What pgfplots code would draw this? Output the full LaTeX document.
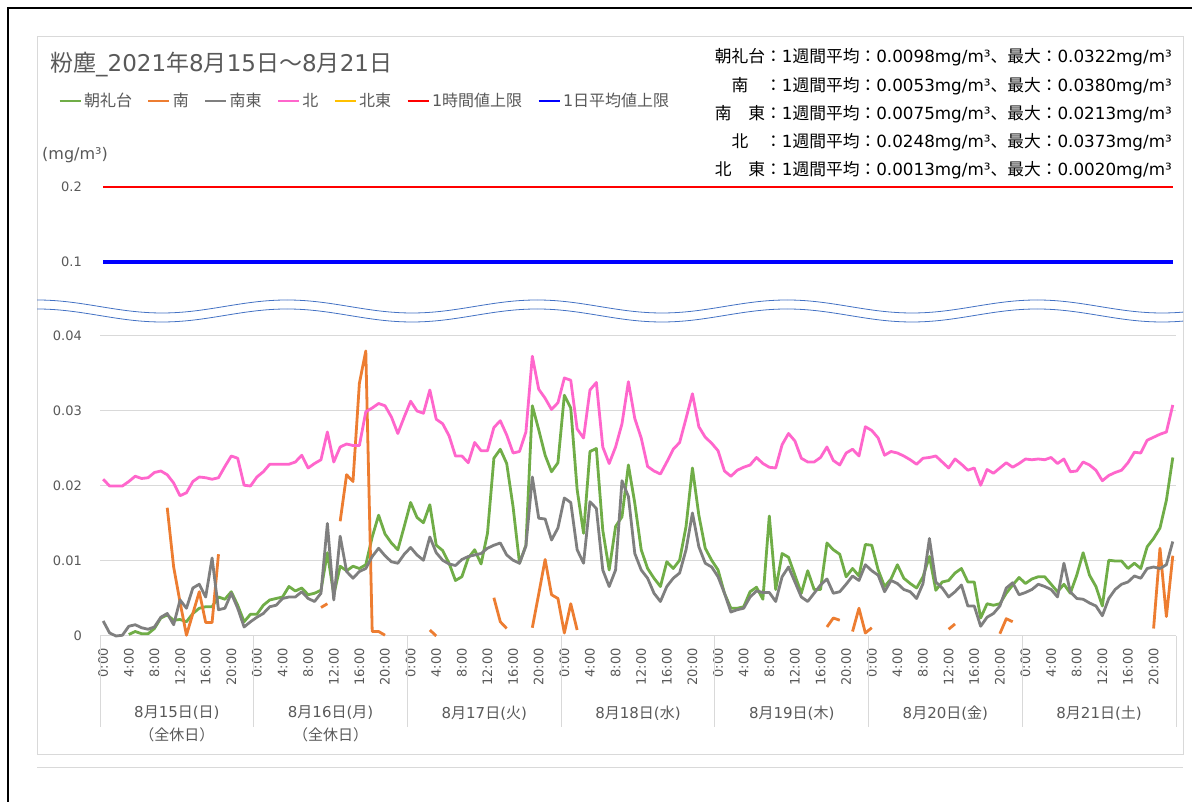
\documentclass[border=0pt]{standalone}
\usepackage{fontspec}
\setmainfont{DejaVu Sans}
\newfontfamily\jpfont{Noto Sans CJK JP}
\newfontfamily\latfont{DejaVu Sans}
\usepackage{pgfplots}
\pgfplotsset{compat=1.18}
\usepackage{pgfplotstable}
\newXeTeXintercharclass\cjkcls
\makeatletter
\def\setcjkrange#1#2{\count@=#1\relax\loop\XeTeXcharclass\count@=\cjkcls\ifnum\count@<#2\advance\count@\@ne\repeat}
\setcjkrange{"3000}{"30FF}
\setcjkrange{"4E00}{"9FFF}
\setcjkrange{"FF00}{"FFEF}
\makeatother
\XeTeXinterchartoks 0 \cjkcls = {\jpfont}
\XeTeXinterchartoks 4095 \cjkcls = {\jpfont}
\XeTeXinterchartoks \cjkcls 0 = {\latfont}
\XeTeXinterchartoks \cjkcls 4095 = {\latfont}
\definecolor{cgreen}{HTML}{70AD47}
\definecolor{corange}{HTML}{ED7D31}
\definecolor{cgray}{HTML}{7F7F7F}
\definecolor{cpink}{HTML}{FF66CC}
\definecolor{cyellow}{HTML}{FFC000}
\definecolor{txt}{HTML}{595959}
\definecolor{gridc}{HTML}{D9D9D9}
\definecolor{wave}{HTML}{4472C4}
\pgfplotstableread{
h G O S P
0 nan nan 0.0020 0.0209
1 nan nan 0.0004 0.0200
2 nan nan 0.0000 0.0200
3 nan nan 0.0001 0.0200
4 0.0002 nan 0.0013 0.0206
5 0.0006 nan 0.0015 0.0213
6 0.0003 nan 0.0011 0.0210
7 0.0003 nan 0.0009 0.0211
8 0.0010 nan 0.0012 0.0218
9 0.0024 nan 0.0025 0.0220
10 0.0028 0.0171 0.0030 0.0215
11 0.0021 0.0092 0.0015 0.0204
12 0.0022 0.0045 0.0048 0.0187
13 0.0019 0.0001 0.0037 0.0191
14 0.0030 0.0030 0.0064 0.0206
15 0.0037 0.0059 0.0069 0.0212
16 0.0039 0.0018 0.0052 0.0211
17 0.0039 0.0018 0.0104 0.0209
18 0.0052 0.0109 0.0035 0.0211
19 0.0049 nan 0.0037 0.0226
20 0.0059 nan 0.0057 0.0240
21 0.0041 nan 0.0037 0.0237
22 0.0019 nan 0.0012 0.0201
23 0.0029 nan 0.0019 0.0200
24 0.0029 nan 0.0025 0.0212
25 0.0041 nan 0.0030 0.0219
26 0.0048 nan 0.0039 0.0229
27 0.0050 nan 0.0041 0.0229
28 0.0052 nan 0.0050 0.0229
29 0.0066 nan 0.0052 0.0229
30 0.0060 nan 0.0052 0.0232
31 0.0064 nan 0.0059 0.0241
32 0.0055 nan 0.0050 0.0224
33 0.0057 nan 0.0046 0.0230
34 0.0061 0.0038 0.0057 0.0235
35 0.0111 0.0043 0.0150 0.0272
36 0.0055 nan 0.0048 0.0232
37 0.0093 0.0153 0.0133 0.0252
38 0.0087 0.0215 0.0086 0.0256
39 0.0093 0.0206 0.0077 0.0254
40 0.0090 0.0337 0.0086 0.0254
41 0.0095 0.0380 0.0090 0.0299
42 0.0132 0.0006 0.0106 0.0304
43 0.0161 0.0006 0.0117 0.0310
44 0.0136 0.0001 0.0107 0.0307
45 0.0124 nan 0.0099 0.0292
46 0.0115 nan 0.0097 0.0270
47 0.0146 nan 0.0109 0.0292
48 0.0178 nan 0.0118 0.0313
49 0.0158 nan 0.0108 0.0300
50 0.0151 nan 0.0101 0.0297
51 0.0175 0.0008 0.0132 0.0328
52 0.0121 0.0000 0.0111 0.0289
53 0.0114 nan 0.0101 0.0283
54 0.0097 nan 0.0096 0.0267
55 0.0074 nan 0.0094 0.0240
56 0.0079 nan 0.0102 0.0240
57 0.0104 nan 0.0106 0.0231
58 0.0115 nan 0.0108 0.0258
59 0.0096 nan 0.0110 0.0247
60 0.0137 nan 0.0117 0.0247
61 0.0237 0.0051 0.0121 0.0278
62 0.0249 0.0019 0.0124 0.0287
63 0.0230 0.0010 0.0108 0.0268
64 0.0172 nan 0.0101 0.0244
65 0.0097 nan 0.0097 0.0246
66 0.0121 nan 0.0120 0.0272
67 0.0307 0.0011 0.0212 0.0373
68 0.0275 0.0056 0.0157 0.0329
69 0.0241 0.0102 0.0156 0.0317
70 0.0219 0.0055 0.0128 0.0302
71 0.0231 0.0050 0.0144 0.0311
72 0.0321 0.0004 0.0184 0.0344
73 0.0304 0.0043 0.0178 0.0341
74 0.0195 0.0008 0.0115 0.0276
75 0.0137 nan 0.0097 0.0264
76 0.0246 nan 0.0179 0.0328
77 0.0250 nan 0.0170 0.0338
78 0.0141 nan 0.0088 0.0252
79 0.0088 nan 0.0066 0.0230
80 0.0146 nan 0.0088 0.0252
81 0.0159 nan 0.0207 0.0283
82 0.0228 nan 0.0186 0.0339
83 0.0177 nan 0.0110 0.0290
84 0.0115 nan 0.0088 0.0264
85 0.0090 nan 0.0077 0.0226
86 0.0077 nan 0.0057 0.0220
87 0.0066 nan 0.0046 0.0216
88 0.0099 nan 0.0066 0.0232
89 0.0090 nan 0.0077 0.0249
90 0.0101 nan 0.0084 0.0258
91 0.0146 nan 0.0115 0.0290
92 0.0224 nan 0.0164 0.0323
93 0.0161 nan 0.0119 0.0279
94 0.0117 nan 0.0097 0.0265
95 0.0101 nan 0.0092 0.0257
96 0.0088 nan 0.0079 0.0247
97 0.0057 nan 0.0057 0.0220
98 0.0037 nan 0.0032 0.0213
99 0.0037 nan 0.0035 0.0221
100 0.0039 nan 0.0037 0.0225
101 0.0059 nan 0.0052 0.0228
102 0.0065 nan 0.0060 0.0238
103 0.0049 nan 0.0058 0.0230
104 0.0160 nan 0.0058 0.0225
105 0.0062 nan 0.0046 0.0224
106 0.0110 nan 0.0079 0.0255
107 0.0105 nan 0.0092 0.0270
108 0.0081 nan 0.0072 0.0260
109 0.0057 nan 0.0052 0.0237
110 0.0087 nan 0.0046 0.0232
111 0.0062 nan 0.0057 0.0232
112 0.0062 nan 0.0068 0.0238
113 0.0124 0.0012 0.0076 0.0252
114 0.0115 0.0024 0.0057 0.0234
115 0.0109 0.0021 0.0059 0.0228
116 0.0079 nan 0.0069 0.0244
117 0.0090 0.0006 0.0080 0.0249
118 0.0080 0.0037 0.0074 0.0240
119 0.0122 0.0004 0.0095 0.0279
120 0.0121 0.0011 0.0087 0.0274
121 0.0088 nan 0.0081 0.0264
122 0.0066 nan 0.0059 0.0241
123 0.0076 nan 0.0074 0.0246
124 0.0095 nan 0.0070 0.0244
125 0.0077 nan 0.0062 0.0240
126 0.0070 nan 0.0059 0.0235
127 0.0064 nan 0.0050 0.0229
128 0.0079 nan 0.0070 0.0237
129 0.0106 nan 0.0130 0.0238
130 0.0061 nan 0.0072 0.0240
131 0.0072 nan 0.0064 0.0232
132 0.0074 0.0009 0.0052 0.0224
133 0.0084 0.0016 0.0059 0.0236
134 0.0090 nan 0.0068 0.0229
135 0.0072 nan 0.0040 0.0221
136 0.0072 nan 0.0040 0.0224
137 0.0024 nan 0.0013 0.0201
138 0.0043 nan 0.0025 0.0222
139 0.0041 nan 0.0030 0.0217
140 0.0043 0.0003 0.0040 0.0224
141 0.0057 0.0023 0.0064 0.0231
142 0.0068 0.0019 0.0071 0.0225
143 0.0078 nan 0.0055 0.0230
144 0.0070 nan 0.0058 0.0236
145 0.0076 nan 0.0062 0.0235
146 0.0079 nan 0.0069 0.0236
147 0.0079 nan 0.0066 0.0235
148 0.0069 nan 0.0062 0.0238
149 0.0059 nan 0.0052 0.0230
150 0.0069 nan 0.0097 0.0236
151 0.0057 nan 0.0059 0.0219
152 0.0081 nan 0.0050 0.0220
153 0.0111 nan 0.0049 0.0232
154 0.0081 nan 0.0044 0.0228
155 0.0066 nan 0.0040 0.0221
156 0.0040 nan 0.0027 0.0207
157 0.0101 nan 0.0050 0.0214
158 0.0100 nan 0.0062 0.0218
159 0.0100 nan 0.0069 0.0221
160 0.0090 nan 0.0072 0.0231
161 0.0097 nan 0.0080 0.0245
162 0.0090 nan 0.0077 0.0244
163 0.0119 nan 0.0090 0.0261
164 0.0130 0.0010 0.0092 0.0265
165 0.0144 0.0117 0.0090 0.0269
166 0.0181 0.0026 0.0095 0.0272
167 0.0238 0.0107 0.0126 0.0308
}\data
\begin{document}
\XeTeXinterchartokenstate=1
\begin{tikzpicture}[x=1pt,y=1pt]
\path[use as bounding box] (0,0) rectangle (1192,802);
\fill[white] (0,0) rectangle (1192,802);
\draw[black, line width=2pt] (8,0) -- (8,794) -- (1192,794);
\draw[gridc, line width=1pt] (37,47) rectangle (1183,765);
\draw[gridc, line width=1pt] (37,34) -- (1183,34);

% lower axis
\begin{axis}[
  at={(100pt,166pt)}, anchor=south west, scale only axis,
  width=1076pt, height=300pt,
  xmin=-0.5, xmax=167.5, ymin=0, ymax=0.04,
  axis line style={draw=none},
  scaled y ticks=false,
  ytick={0,0.01,0.02,0.03,0.04},
  yticklabels={0,0.01,0.02,0.03,0.04},
  ymajorgrids, major grid style={draw=gridc, line width=1pt},
  xtick={0,4,...,164},
  xticklabels={0:00,4:00,8:00,12:00,16:00,20:00,0:00,4:00,8:00,12:00,16:00,20:00,0:00,4:00,8:00,12:00,16:00,20:00,0:00,4:00,8:00,12:00,16:00,20:00,0:00,4:00,8:00,12:00,16:00,20:00,0:00,4:00,8:00,12:00,16:00,20:00,0:00,4:00,8:00,12:00,16:00,20:00},
  xtick pos=bottom, ytick pos=left,
  major tick length=0pt,
  extra x ticks={-0.5,23.5,47.5,71.5,95.5,119.5,143.5,167.5},
  extra x tick labels={},
  extra x tick style={major tick length=91pt, tick align=outside, major tick style={draw=gridc, line width=1pt}},
  tick label style={font=\fontsize{13}{15}\selectfont, text=txt},
  yticklabel style={anchor=east, inner sep=0pt, xshift=-18pt},
  xticklabel style={yshift=-12pt, rotate=90, anchor=east, inner sep=0pt},
  unbounded coords=jump,
  every axis plot/.append style={line width=2.8pt, line join=round},
  clip=false,
]
\addplot[cgreen] table[x=h, y=G] {\data};
\addplot[corange] table[x=h, y=O] {\data};
\addplot[cgray] table[x=h, y=S] {\data};
\addplot[cpink] table[x=h, y=P] {\data};
\end{axis}

% upper axis
\begin{axis}[
  at={(100pt,540pt)}, anchor=south west, scale only axis,
  width=1076pt, height=75pt,
  xmin=-0.5, xmax=167.5, ymin=0.1, ymax=0.2,
  axis line style={draw=none}, xtick=\empty,
  scaled y ticks=false,
  ytick={0.1,0.2}, yticklabels={0.1,0.2},
  major tick length=0pt, ytick pos=left,
  tick label style={font=\fontsize{13}{15}\selectfont, text=txt},
  yticklabel style={anchor=east, inner sep=0pt, xshift=-18pt},
  clip=false,
  legend columns=-1,
  legend cell align=left,
  legend image code/.code={\draw[#1, line width=2.8pt] (0pt,0pt) -- (21pt,0pt);},
  legend style={at={(-0.039,2.147)}, anchor=west, draw=none, fill=none,
    inner sep=0pt, font=\fontsize{16}{18}\selectfont, text=txt,
    nodes={inner sep=2pt},
    /tikz/every even column/.append style={column sep=13pt}},
]
\addlegendimage{cgreen}\addlegendentry{朝礼台}
\addlegendimage{corange}\addlegendentry{南}
\addlegendimage{cgray}\addlegendentry{南東}
\addlegendimage{cpink}\addlegendentry{北}
\addlegendimage{cyellow}\addlegendentry{北東}
\addplot[red, line width=2.5pt] coordinates {(0,0.2) (167,0.2)};
\addlegendentry{1時間値上限}
\addplot[blue, line width=3.5pt] coordinates {(0,0.1) (167,0.1)};
\addlegendentry{1日平均値上限}
\end{axis}

% broken-axis wave
\begin{scope}
\clip (37,470) rectangle (1183,520);
\foreach \k in {0,...,4} {
  \pgfmathsetmacro\xa{37+250*\k}
  \draw[wave, line width=0.8pt] (\xa,502) cos (\xa+62.5,495.5) sin (\xa+125,489) cos (\xa+187.5,495.5) sin (\xa+250,502);
  \draw[wave, line width=0.8pt] (\xa,493) cos (\xa+62.5,486.5) sin (\xa+125,480) cos (\xa+187.5,486.5) sin (\xa+250,493);
}
\end{scope}

% title, unit
\node[anchor=west, text=txt, font=\fontsize{23}{27}\selectfont, inner sep=0pt] at (50,737) {粉塵\_2021年8月15日～8月21日};
\node[anchor=west, text=txt, font=\fontsize{16}{18}\selectfont, inner sep=0pt] at (42,647) {(mg/m³)};

% stats
\begin{scope}[every node/.style={anchor=east, inner sep=0pt, font=\fontsize{16.75}{18}\selectfont, text=black}]
\node at (1172,745) {\makebox[3em][c]{朝礼台}：1週間平均：0.0098mg/m³、最大：0.0322mg/m³};
\node at (1172,716) {\makebox[3em][c]{南}：1週間平均：0.0053mg/m³、最大：0.0380mg/m³};
\node at (1172,688) {\makebox[3em][s]{南\hfill 東}：1週間平均：0.0075mg/m³、最大：0.0213mg/m³};
\node at (1172,660) {\makebox[3em][c]{北}：1週間平均：0.0248mg/m³、最大：0.0373mg/m³};
\node at (1172,632) {\makebox[3em][s]{北\hfill 東}：1週間平均：0.0013mg/m³、最大：0.0020mg/m³};
\end{scope}

% day labels
\begin{scope}[every node/.style={inner sep=0pt, font=\fontsize{15}{17}\selectfont, text=txt}]
\node at (176.9,89) {8月15日(日)};
\node at (176.9,67) {（全休日）};
\node at (330.6,89) {8月16日(月)};
\node at (330.6,67) {（全休日）};
\node at (484.3,89) {8月17日(火)};
\node at (638.0,89) {8月18日(水)};
\node at (791.7,89) {8月19日(木)};
\node at (945.4,89) {8月20日(金)};
\node at (1099.1,89) {8月21日(土)};
\end{scope}
\end{tikzpicture}
\end{document}
